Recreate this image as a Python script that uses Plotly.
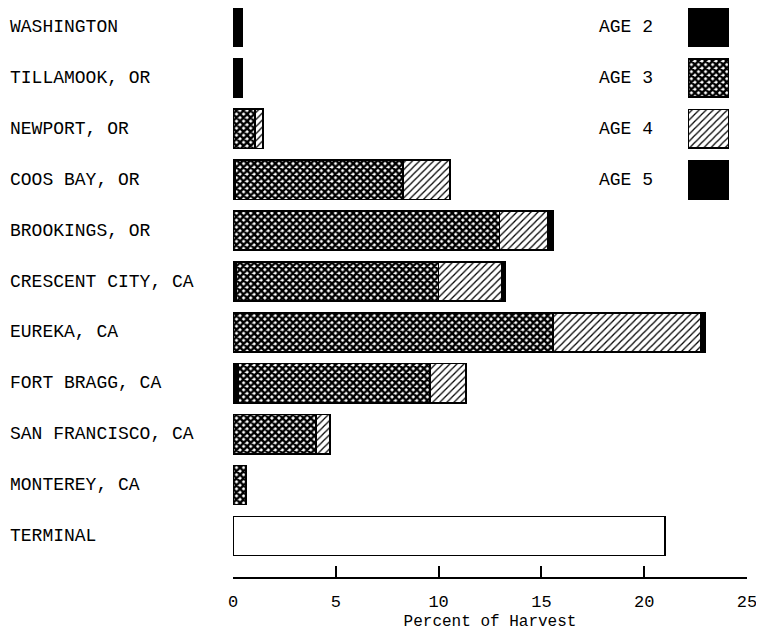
import plotly.graph_objects as go

# ---- data ----
categories = ["WASHINGTON", "TILLAMOOK, OR", "NEWPORT, OR", "COOS BAY, OR",
              "BROOKINGS, OR", "CRESCENT CITY, CA", "EUREKA, CA", "FORT BRAGG, CA",
              "SAN FRANCISCO, CA", "MONTEREY, CA", "TERMINAL"]
age2 = [0.45, 0.45, None, 0.1, None, 0.15, None, 0.25, None, None, None]
age3 = [None, None, 1.07, 8.17, 12.95, 9.85, 15.56, 9.33, 4.04, 0.63, None]
age4 = [None, None, 0.39, 2.28, 2.37, 3.08, 7.2, 1.75, 0.68, None, None]
age5 = [None, None, None, None, 0.24, 0.15, 0.2, None, None, None, None]
terminal = [None, None, None, None, None, None, None, None, None, None, 21.0]

legend_names = ["AGE 2", "AGE 3", "AGE 4", "AGE 5"]
legend_rows = ["WASHINGTON", "TILLAMOOK, OR", "NEWPORT, OR", "COOS BAY, OR"]

x_ticks = [0, 5, 10, 15, 20, 25]
x_title = "Percent of Harvest"

FONT = "Liberation Mono, DejaVu Sans Mono, monospace"

solid = dict(color="black", line=dict(color="black", width=1.5))
dots = dict(color="black", line=dict(color="black", width=1.5),
            pattern=dict(shape="x", bgcolor="white", fgcolor="black",
                         size=5, solidity=0.72, fillmode="replace"))
hatch = dict(color="white", line=dict(color="black", width=1.5),
             pattern=dict(shape="/", bgcolor="white", fgcolor="black",
                          size=5, solidity=0.25, fillmode="replace"))
styles = [solid, dots, hatch, solid]
series = [age2, age3, age4, age5]

fig = go.Figure()
for name, vals, st in zip(legend_names, series, styles):
    fig.add_trace(go.Bar(y=categories, x=vals, orientation="h", name=name,
                         marker=st, width=0.77, showlegend=False))
fig.add_trace(go.Bar(y=categories, x=terminal, orientation="h", name="TERMINAL",
                     marker=dict(color="white", line=dict(color="black", width=1.5)),
                     width=0.77, showlegend=False))

# legend swatches drawn as bars on a small side axis
for name, row, st in zip(legend_names, legend_rows, styles):
    fig.add_trace(go.Bar(y=[row], x=[1], orientation="h", name=name, marker=st,
                         width=0.75, xaxis="x2", yaxis="y", showlegend=False))

annotations = []
for c in categories:
    annotations.append(dict(x=-0.4377, xref="paper", y=c, yref="y", text=c,
                            showarrow=False, xanchor="left", yanchor="middle",
                            font=dict(family=FONT, size=18, color="black")))
for name, row in zip(legend_names, legend_rows):
    annotations.append(dict(x=0.708, xref="paper", y=row, yref="y", text=name,
                            showarrow=False, xanchor="left", yanchor="middle",
                            font=dict(family=FONT, size=18, color="black")))

fig.update_layout(
    width=756, height=627,
    margin=dict(l=225, r=17, t=0, b=58),
    paper_bgcolor="white", plot_bgcolor="rgba(0,0,0,0)",
    barmode="stack", bargap=0.2,
    font=dict(family=FONT, color="black"),
    xaxis=dict(range=[0, 25], tickvals=x_ticks, showgrid=False, zeroline=False,
               showline=True, linecolor="black", linewidth=1.5,
               ticks="inside", ticklen=11, tickwidth=1.5, tickcolor="black",
               tickfont=dict(family=FONT, size=17, color="black"),
               ticklabelstandoff=8,
               title=dict(text=x_title, standoff=4,
                          font=dict(family=FONT, size=16, color="black"))),
    xaxis2=dict(domain=[0.885, 0.965], range=[0, 1], anchor="y", visible=False,
                showgrid=False, zeroline=False),
    yaxis=dict(type="category", categoryorder="array", categoryarray=categories,
               range=[10.805, -0.373], autorange=False, showticklabels=False,
               showgrid=False, zeroline=False, showline=False, ticks=""),
    annotations=annotations,
)

fig.write_html("out.html")
